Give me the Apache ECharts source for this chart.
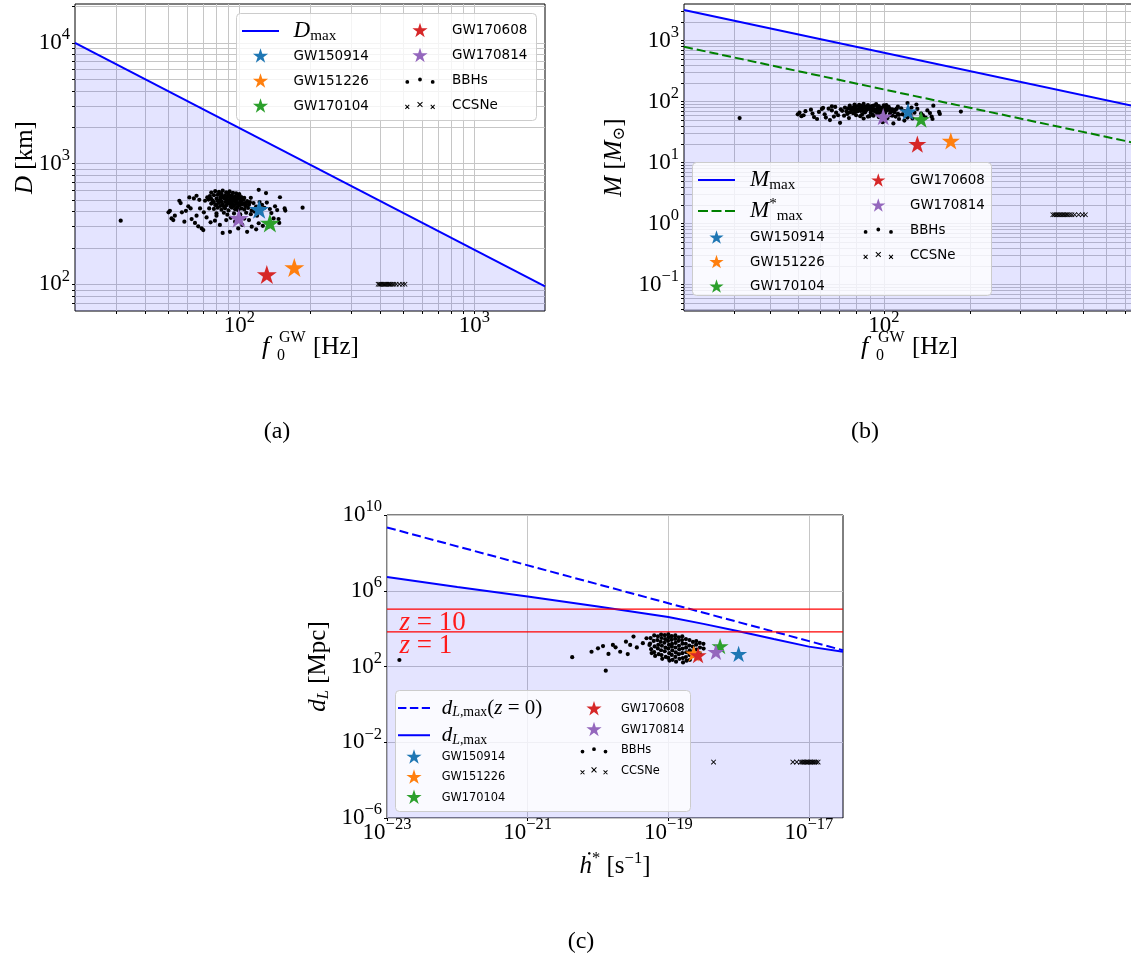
<!DOCTYPE html>
<html>
<head>
<meta charset="utf-8">
<script src="https://cdn.jsdelivr.net/npm/echarts@6.0.0/dist/echarts.min.js"></script>
<style>
html,body{margin:0;padding:0;background:#fff}
#fig{width:1131px;height:964px}
</style>
</head>
<body>
<div id="fig"></div>
<script>
// ---------------- data ----------------
// GW events (shared by all panels)
const gwNames  = ['GW150914', 'GW151226', 'GW170104', 'GW170608', 'GW170814'];
const gwColors = ['#1f77b4', '#ff7f0e', '#2ca02c', '#d62728', '#9467bd'];
const gwF = [121.5, 171.5, 135, 131, 99.5];      // f0_GW [Hz]
const gwD = [410, 135, 315, 118, 345];           // D [km]
const gwM = [67, 22, 50, 19.5, 55];              // M [Msun]
const gwH = [1.0e-18, 2.3e-19, 5.45e-19, 2.65e-19, 4.75e-19]; // hdot* [1/s]
const gwL = [420, 440, 1080, 355, 530];          // d_L [Mpc]

// BBH population for (a) and (b): [f0, D, M]
const bbhAB = [
  [50.0,394,62],[50.7,406,66],[51.5,351,58],[52.4,340,60],[53.2,370,70],[55.6,492,74],[56.3,470,64],[57.0,394,56],[58.4,330,52],[59.3,406,68],
  [60.7,442,76],[61.3,524,79],[62.1,425,62],[62.7,347,55],[64.8,322,50],[65.8,370,72],[66.9,302,57],[68.1,425,66],[69.2,290,60],[70.3,281,45],
  [67.6,501,82],[64.1,514,77],[65.8,541,84],[71.5,492,71],[73.1,524,80],[74.5,425,63],[70.7,394,75],[72.6,358,59],[75.5,326,54],[78.8,336,65],
  [82.7,310,58],[85.0,266,53],[91.3,272,61],[80.0,370,69],[77.0,477,73],
  [76,575,86],[79,590,90],[82,583,85],[85,596,92],[88,578,88],[91,588,84],[94,572,91],[97,566,80],[100,558,87],[84,562,79],[90,556,83],
  [75,538,78],[78,547,81],[81,551,74],[84,533,86],[87,546,77],[90,539,82],[93,548,75],[96,532,85],[99,541,78],[102,528,88],[105,519,76],
  [74,503,70],[77,494,75],[80,512,84],[83,499,72],[86,516,80],[89,493,76],[92,507,86],[95,497,71],[98,511,79],[101,494,73],[104,502,82],[108,488,70],[111,479,77],
  [76,466,67],[79,453,74],[82,471,78],[85,458,70],[88,449,81],[91,467,73],[94,454,68],[97,463,76],[100,449,72],[103,459,80],[106,444,69],[110,456,74],
  [78,421,65],[81,431,71],[84,414,62],[87,426,74],[90,409,66],[93,432,70],[96,419,64],[99,411,68],[102,426,71],[105,417,63],[109,429,67],[113,409,61],
  [80,386,60],[86,391,67],[89,377,58],[95,386,62],[101,379,65],[107,391,59],[112,381,63],
  [83,520,80],[86,530,83],[89,525,79],[92,520,85],[95,515,77],[87,480,74],[90,485,78],[93,475,72],[96,480,75],[84,485,76],
  [81,490,70],[88,505,81],[91,498,84],[94,525,88],[97,490,74],[99,470,71],[86,440,69],[89,465,77],[92,440,72],[95,445,70],
  [98,435,68],[102,475,76],[105,470,72],[100,520,82],[107,460,75],[80,455,73],[83,445,71],[78,480,76],[76,510,79],[82,560,89],
  [121,606,95],[130,569,90],[149,526,86],[157,408,63],[156,425,68],[142,442,72],[145,412,65],[140,351,55],[147,347,57],[148,322,52],
  [137,389,60],[115,470,78],[118,440,70],[122,480,74],[125,455,80],[128,430,66],[116,400,62],[119,370,58],[124,390,61],[131,475,76],
  [135,420,64],[133,300,51],[126,305,53],[121,320,55],[118,285,49],[113,300,52],[110,340,57],[105,350,60],[103,310,54],[99,290,46],
  [96,330,56],[92,355,59],[88,340,57],[108,272,44],[112,520,83],
  [31.3,336,54],[186,431,69]
];

// BBH population for (c): [hdot*, d_L]
const bbhC = [
  [1.5e-23,220],[4.3e-21,310],[1.29e-20,60],[8.1e-21,600],[1.0e-20,910],[1.18e-20,1200],[1.41e-20,460],[1.63e-20,1380],[1.78e-20,1030],
  [2.07e-20,600],[2.65e-20,455],[2.5e-20,2050],[2.87e-20,1380],[3.2e-20,3800],[3.57e-20,1020],[4.35e-20,1700],[4.9e-20,3100],[5.4e-20,1380],
  [5.6e-20,3160],[5.5e-20,1620],[5.7e-20,820],[5.8e-20,510],
  [6.3e-20,4400],[6.2e-20,2240],[6.4e-20,1150],[6.3e-20,570],[6.5e-20,360],
  [7.1e-20,3950],[7.0e-20,2500],[7.2e-20,1400],[7.1e-20,900],[7.3e-20,450],
  [7.9e-20,4900],[8.0e-20,3200],[7.8e-20,2000],[8.1e-20,1250],[7.9e-20,720],[8.0e-20,400],[8.2e-20,255],
  [8.9e-20,4500],[9.0e-20,2800],[8.8e-20,1800],[9.1e-20,990],[8.9e-20,640],[9.2e-20,320],
  [1.0e-19,5050],[1.01e-19,3500],[0.99e-19,2250],[1.02e-19,1400],[1.0e-19,880],[1.03e-19,505],[1.0e-19,285],[1.04e-19,205],
  [1.12e-19,4000],[1.11e-19,2550],[1.13e-19,1560],[1.12e-19,1130],[1.14e-19,700],[1.12e-19,410],[1.15e-19,226],
  [1.26e-19,4350],[1.25e-19,2850],[1.27e-19,1760],[1.26e-19,1010],[1.28e-19,555],[1.26e-19,320],[1.29e-19,180],
  [1.41e-19,3500],[1.40e-19,2260],[1.42e-19,1250],[1.43e-19,805],[1.41e-19,445],[1.44e-19,255],
  [1.58e-19,3900],[1.57e-19,2480],[1.59e-19,1600],[1.60e-19,880],[1.58e-19,505],[1.61e-19,278],[1.62e-19,165],
  [1.78e-19,2800],[1.77e-19,1590],[1.79e-19,990],[1.80e-19,565],[1.78e-19,318],[1.82e-19,202],
  [2.0e-19,2480],[1.99e-19,1270],[2.02e-19,705],[2.0e-19,405],[2.03e-19,226],
  [2.24e-19,1980],[2.23e-19,1130],[2.26e-19,625],[2.25e-19,360],
  [2.5e-19,2200],[2.49e-19,1420],[2.52e-19,790],[2.5e-19,455],[2.54e-19,282],
  [2.8e-19,1760],[2.82e-19,1010],[2.79e-19,495],
  [3.16e-19,1570],[3.18e-19,880]
];

// CCSNe
const ccsnF = [390, 395, 400, 405, 410, 415, 420, 425, 430, 435, 440, 447, 455, 465, 480, 495, 507];
const ccsnD = 100;     // km
const ccsnM = 1.4;     // Msun
const ccsnH = [4.4e-19, 5.9e-18, 6.7e-18, 7.6e-18, 8.0e-18, 8.4e-18, 8.8e-18, 9.2e-18, 9.6e-18, 1.0e-17, 1.05e-17, 1.1e-17, 1.15e-17, 1.2e-17, 1.27e-17, 1.35e-17];
const ccsnL = 9e-4;    // Mpc

// limit curves
const dmaxF = [20, 2000], dmaxD = [10000, 96];
const mmaxF = [20, 750], mmaxM = [3180, 84.8], mstarM = [795, 21.2];
const dlH    = [1e-23, 1e-22, 1e-21, 1e-20, 1e-19, 3.16e-19, 1e-18, 3.16e-18, 1e-17, 3.05e-17];
const dlMax  = [5.25e6, 1.58e6, 5.0e5, 1.48e5, 4.07e4, 1.78e4, 7.24e3, 2.82e3, 1.12e3, 6.0e2];
const dl0H   = [1e-23, 3.05e-17], dl0 = [2.2e9, 721];
const zLabels = ['10', '1'], zDL = [1.08e5, 6.7e3];

// axis ranges and tick labels
const rangeA = { x: [20, 2000], y: [60, 21000] };
const rangeB = { x: [20, 750], y: [0.037, 4000] };
const rangeC = { x: [0.9999e-23, 3.05e-17], y: [0.9999e-6, 1.0001e10] };
const ticksAx = [100, 1000], ticksAy = [100, 1000, 10000];
const ticksBx = [100], ticksBy = [0.1, 1, 10, 100, 1000];
const ticksCx = [1e-23, 1e-21, 1e-19, 1e-17], ticksCy = [1e-6, 1e-2, 1e2, 1e6, 1e10];

// ---------------- styling helpers ----------------
const SERIF = '"Liberation Serif", "DejaVu Serif", serif';
const SANS = '"DejaVu Sans", sans-serif';
const BLUE = '#0000ff';
const RED = '#ff0000';
const FILL = 'rgba(0,0,255,0.15)';
const GRIDC = '#c6c6c6';

const STAR = 'path://M0 0M20 20M10 0L12.245 6.91L19.511 6.91L13.633 11.18L15.878 18.09L10 13.82L4.122 18.09L6.367 11.18L0.489 6.91L7.755 6.91Z';
const CROSS = 'path://M0 0M10 10M1 2L2 1L9 8L8 9ZM8 1L9 2L2 9L1 8Z';

function xMark(cx, cy, h, t) {
  return 'M' + (cx - h) + ' ' + (cy - h + t) + 'L' + (cx - h + t) + ' ' + (cy - h) + 'L' + (cx + h) + ' ' + (cy + h - t) + 'L' + (cx + h - t) + ' ' + (cy + h) + 'Z' +
         'M' + (cx + h - t) + ' ' + (cy - h) + 'L' + (cx + h) + ' ' + (cy - h + t) + 'L' + (cx - h + t) + ' ' + (cy + h) + 'L' + (cx - h) + ' ' + (cy + h - t) + 'Z';
}
function dot(cx, cy, r) {
  return 'M' + (cx + r) + ' ' + cy + 'a' + r + ' ' + r + ' 0 1 0 ' + (-2 * r) + ' 0a' + r + ' ' + r + ' 0 1 0 ' + (2 * r) + ' 0Z';
}
// three-marker legend icons (like matplotlib scatter handles)
function tripleIcon(kind, w, h, gap) {
  const c = w / 2, m = h / 2;
  let p = 'path://M0 0M' + w + ' ' + h;
  if (kind === 'dot') {
    p += dot(c - gap, m + 1.2, 1.9) + dot(c, m - 1.2, 1.9) + dot(c + gap, m + 1.2, 1.9);
  } else {
    p += xMark(c - gap, m + 1.2, 2.3, 0.7) + xMark(c, m - 1.2, 2.8, 0.7) + xMark(c + gap, m + 1.2, 2.3, 0.7);
  }
  return p;
}
// line legend icons (solid or dashed), 2px thick
function lineIcon(w, h, dash, gap) {
  let p = 'path://M0 0M' + w + ' ' + h;
  const y0 = h / 2 - 1, y1 = h / 2 + 1;
  for (let x = 0; x < w - 0.5; x += dash + gap) {
    const x1 = Math.min(x + dash, w);
    p += 'M' + x + ' ' + y0 + 'L' + x1 + ' ' + y0 + 'L' + x1 + ' ' + y1 + 'L' + x + ' ' + y1 + 'Z';
  }
  return p;
}
const lineIcons = {
  'Dmax': lineIcon(37, 16, 37, 0),
  'Mmax': lineIcon(37, 15, 37, 0),
  'Mmax*': lineIcon(37, 15, 10, 3.5),
  'dLmax0': lineIcon(32, 16, 8.4, 3.5),
  'dLmax': lineIcon(32, 16, 32, 0)
};

function gridVals(min, max) {
  const v = [];
  for (let e = Math.floor(Math.log10(min)); e <= Math.ceil(Math.log10(max)); e++) {
    for (let k = 1; k < 10; k++) {
      const x = k * Math.pow(10, e);
      if (x > min * 1.002 && x < max * 0.998) v.push(x);
    }
  }
  return v;
}

function powLabel(v) {
  const e = Math.round(Math.log10(v));
  return '{b|10}{s|' + String(e).replace('-', '\u2212') + '}';
}
const tickRich = {
  b: { fontFamily: SERIF, fontSize: 23, lineHeight: 30, color: '#000' },
  s: { fontFamily: SERIF, fontSize: 16.5, lineHeight: 30, color: '#000', padding: [0, 0, 16, 0] }
};

function logAxis(grid, range, lineVals, labelVals, pos, margin) {
  return {
    type: 'log', gridIndex: grid, position: pos, min: range[0], max: range[1],
    axisLine: { show: false },
    axisTick: { show: true, customValues: lineVals, length: 3, lineStyle: { color: '#000', width: 1 } },
    axisLabel: { customValues: labelVals, formatter: powLabel, rich: tickRich, margin: margin, color: '#000' },
    splitLine: { show: true, lineStyle: { color: GRIDC, width: 1 } },
    minorTick: { show: false }, minorSplitLine: { show: false }
  };
}

// math rich text (zrender + echarts keys)
function mathRich(size, lh, color) {
  const col = color || '#000';
  const base = { lineHeight: lh, color: col, fill: col };
  return {
    i:  Object.assign({ fontFamily: SERIF, fontStyle: 'italic', fontSize: size }, base),
    n:  Object.assign({ fontFamily: SERIF, fontSize: size }, base),
    s:  Object.assign({ fontFamily: SERIF, fontSize: size * 0.66, padding: [size * 0.46, 0, 0, 0] }, base),
    si: Object.assign({ fontFamily: SERIF, fontStyle: 'italic', fontSize: size * 0.66, padding: [size * 0.46, 0, 0, 0] }, base),
    p:  Object.assign({ fontFamily: SERIF, fontSize: size * 0.66, padding: [0, 0, size * 0.62, 0] }, base)
  };
}

const legendLabel = {
  'Dmax': '{i|D}{s|max}',
  'Mmax': '{i|M}{s|max}',
  'Mmax*': '{i|M}{p|*}{s|max}',
  'dLmax0': '{i|d}{si|L}{s|,max}{n|(}{i|z}{n| = 0)}',
  'dLmax': '{i|d}{si|L}{s|,max}'
};

function legendCol(items, left, top, lhs, o) {
  return {
    show: true, orient: 'vertical', left: left, top: top, padding: 0, itemGap: 0,
    itemWidth: o.w, itemHeight: o.h, selectedMode: false, z: 4,
    formatter: function (name) { return legendLabel[name] || name; },
    textStyle: { fontFamily: SANS, fontSize: o.fs, color: '#000', padding: [0, 0, 0, o.pad] },
    data: items.map(function (name, k) {
      const lh = Array.isArray(lhs) ? lhs[k] : lhs;
      const it = { name: name, textStyle: { lineHeight: lh, rich: mathRich(o.math, lh) } };
      if (name === 'BBHs') it.icon = tripleIcon('dot', o.w, o.h, o.gap);
      if (name === 'CCSNe') it.icon = tripleIcon('x', o.w, o.h, o.gap);
      if (lineIcons[name]) it.icon = lineIcons[name];
      return it;
    })
  };
}

// ---------------- series ----------------
const series = [];
function lineSeries(name, ax, xs, ys, color, dashed, fill, width) {
  const s = {
    name: name, type: 'line', xAxisIndex: ax, yAxisIndex: ax, symbol: 'none', silent: true,
    data: xs.map(function (x, i) { return [x, ys[i]]; }),
    lineStyle: { color: color, width: width || 2, type: dashed ? [9, 4] : 'solid' },
    itemStyle: { color: color, opacity: 1 }, emphasis: { disabled: true }, z: 2
  };
  if (fill) s.areaStyle = { color: FILL, origin: 'start' };
  return s;
}
function dotsSeries(ax, pts) {
  return { name: 'BBHs', type: 'scatter', xAxisIndex: ax, yAxisIndex: ax, symbol: 'circle', symbolSize: 4.2,
           itemStyle: { color: '#000', opacity: 1 }, data: pts, silent: true, emphasis: { disabled: true }, z: 3 };
}
function crossSeries(ax, pts) {
  return { name: 'CCSNe', type: 'scatter', xAxisIndex: ax, yAxisIndex: ax, symbol: CROSS, symbolSize: 6.5,
           itemStyle: { color: '#000', opacity: 1 }, data: pts, silent: true, emphasis: { disabled: true }, z: 3 };
}
function starSeries(ax, xs, ys, size) {
  return gwNames.map(function (n, i) {
    return { name: n, type: 'scatter', xAxisIndex: ax, yAxisIndex: ax, symbol: STAR, symbolSize: size,
             itemStyle: { color: gwColors[i], opacity: 1 }, data: [[xs[i], ys[i]]], silent: true, emphasis: { disabled: true }, z: 4 };
  });
}

// (a)
series.push(lineSeries('Dmax', 0, dmaxF, dmaxD, BLUE, false, true));
series.push(dotsSeries(0, bbhAB.map(function (r) { return [r[0], r[1]]; })));
series.push(crossSeries(0, ccsnF.map(function (f) { return [f, ccsnD]; })));
series.push.apply(series, starSeries(0, gwF, gwD, 21));
// (b)
series.push(lineSeries('Mmax', 1, mmaxF, mmaxM, BLUE, false, true));
series.push(lineSeries('Mmax*', 1, mmaxF, mstarM, '#008000', true, false));
series.push(dotsSeries(1, bbhAB.map(function (r) { return [r[0], r[2]]; })));
series.push(crossSeries(1, ccsnF.map(function (f) { return [f, ccsnM]; })));
series.push.apply(series, starSeries(1, gwF, gwM, 19));
// (c)
series.push(lineSeries('dLmax', 2, dlH, dlMax, BLUE, false, true));
series.push(lineSeries('dLmax0', 2, dl0H, dl0, BLUE, true, false));
// redshift reference lines and their labels
zDL.forEach(function (v, i) {
  series.push(lineSeries('z' + zLabels[i], 2, rangeC.x, [v, v], RED, false, false, 1.2));
  series.push({
    type: 'scatter', xAxisIndex: 2, yAxisIndex: 2, symbolSize: 1, silent: true, z: 5,
    itemStyle: { color: 'rgba(0,0,0,0)' }, emphasis: { disabled: true },
    data: [[rangeC.x[0], v]],
    label: { show: true, opacity: 1, position: [13, 1], formatter: '{i|z}{n| = ' + zLabels[i] + '}', rich: mathRich(27, 26, '#ff1a1a') }
  });
});
series.push(dotsSeries(2, bbhC));
series.push(crossSeries(2, ccsnH.map(function (h) { return [h, ccsnL]; })));
series.push.apply(series, starSeries(2, gwH, gwL, 18));

// ---------------- text pieces ----------------
const axRich = mathRich(25, 30);
function tx(x, y, text, opt) {
  return Object.assign({ type: 'text', x: x, y: y, z: 5, silent: true,
    style: { text: text, rich: axRich, font: '25px ' + SERIF, fill: '#000', align: 'center', verticalAlign: 'middle' } }, opt || {});
}
function fLabel(x, y) {
  return { type: 'group', x: x, y: y, silent: true, children: [
    { type: 'text', x: 0, y: 0, style: { text: 'f', font: 'italic 26px ' + SERIF, fill: '#000', verticalAlign: 'middle' } },
    { type: 'text', x: 15, y: 9, style: { text: '0', font: '16px ' + SERIF, fill: '#000', verticalAlign: 'middle' } },
    { type: 'text', x: 17, y: -9, style: { text: 'GW', font: '16px ' + SERIF, fill: '#000', verticalAlign: 'middle' } },
    { type: 'text', x: 51, y: 0, style: { text: '[Hz]', font: '25px ' + SERIF, fill: '#000', verticalAlign: 'middle' } }
  ] };
}
function box(x, y, w, h) {
  return { type: 'rect', z: 3, silent: true, shape: { x: x, y: y, width: w, height: h, r: 4 },
           style: { fill: 'rgba(255,255,255,0.8)', stroke: '#cccccc', lineWidth: 1 } };
}
function caption(x, y, t) {
  return { type: 'text', x: x, y: y, z: 5, silent: true,
           style: { text: t, font: '24px ' + SERIF, fill: '#000', align: 'center', verticalAlign: 'middle' } };
}

const graphic = [
  box(236.5, 13.5, 300, 107),
  box(692.5, 162.5, 299, 133),
  box(395.5, 690.5, 295, 121),
  tx(25, 157.5, '{i|D} [km]', { rotation: Math.PI / 2 }),
  tx(614, 157.5, '{i|M} [{i|M}{s|\u2299}]', { rotation: Math.PI / 2 }),
  tx(318, 666.5, '{i|d}{si|L} [Mpc]', { rotation: Math.PI / 2 }),
  fLabel(262, 347),
  fLabel(861, 347),
  tx(615, 866, '{i|\u1E23}{p|*} [s{p|\u22121}]'),
  caption(277, 432, '(a)'),
  caption(865, 432, '(b)'),
  caption(581, 942, '(c)')
];

// ---------------- chart ----------------
const chart = echarts.init(document.getElementById('fig'));
const gridBase = { show: true, borderColor: '#000', borderWidth: 1, backgroundColor: 'transparent', containLabel: false, outerBoundsMode: 'none' };
chart.setOption({
  animation: false,
  backgroundColor: '#fff',
  grid: [
    Object.assign({ left: 75, top: 4, width: 470, height: 307 }, gridBase),
    Object.assign({ left: 684, top: 4, width: 450, height: 307 }, gridBase),
    Object.assign({ left: 387, top: 515, width: 456, height: 303 }, gridBase)
  ],
  xAxis: [
    logAxis(0, rangeA.x, gridVals(rangeA.x[0], rangeA.x[1]), ticksAx, 'bottom', 0),
    logAxis(1, rangeB.x, gridVals(rangeB.x[0], rangeB.x[1]), ticksBx, 'bottom', 0),
    logAxis(2, rangeC.x, ticksCx, ticksCx, 'bottom', 0)
  ],
  yAxis: [
    logAxis(0, rangeA.y, gridVals(rangeA.y[0], rangeA.y[1]), ticksAy, 'left', 5),
    logAxis(1, rangeB.y, gridVals(rangeB.y[0], rangeB.y[1]), ticksBy, 'left', 5),
    logAxis(2, rangeC.y, ticksCy, ticksCy, 'left', 5)
  ],
  legend: [
    legendCol(['Dmax', 'GW150914', 'GW151226', 'GW170104'], 242, 18.2, 25, { w: 37, h: 16, fs: 13.5, pad: 9.6, math: 23, gap: 12.7 }),
    legendCol(['GW170608', 'GW170814', 'BBHs', 'CCSNe'], 401.5, 18.2, 25, { w: 37, h: 16, fs: 13.5, pad: 8.5, math: 23, gap: 12.7 }),
    legendCol(['Mmax', 'Mmax*', 'GW150914', 'GW151226', 'GW170104'], 698, 163.75, [32.5, 27.5, 24.5, 24.5, 24.5], { w: 37, h: 15, fs: 13.4, pad: 10, math: 23, gap: 12.7 }),
    legendCol(['GW170608', 'GW170814', 'BBHs', 'CCSNe'], 859.8, 168.2, 25, { w: 37, h: 15, fs: 13.4, pad: 8.2, math: 23, gap: 12.7 }),
    legendCol(['dLmax0', 'dLmax', 'GW150914', 'GW151226', 'GW170104'], 398, 692.6, [30.8, 23.2, 20.2, 20.2, 20.2], { w: 32, h: 16, fs: 11.4, pad: 6.7, math: 21, gap: 11.5 }),
    legendCol(['GW170608', 'GW170814', 'BBHs', 'CCSNe'], 578, 698.65, 20.7, { w: 32, h: 16, fs: 11.4, pad: 6, math: 21, gap: 11.5 })
  ],
  graphic: graphic,
  series: series
});
</script>
</body>
</html>
